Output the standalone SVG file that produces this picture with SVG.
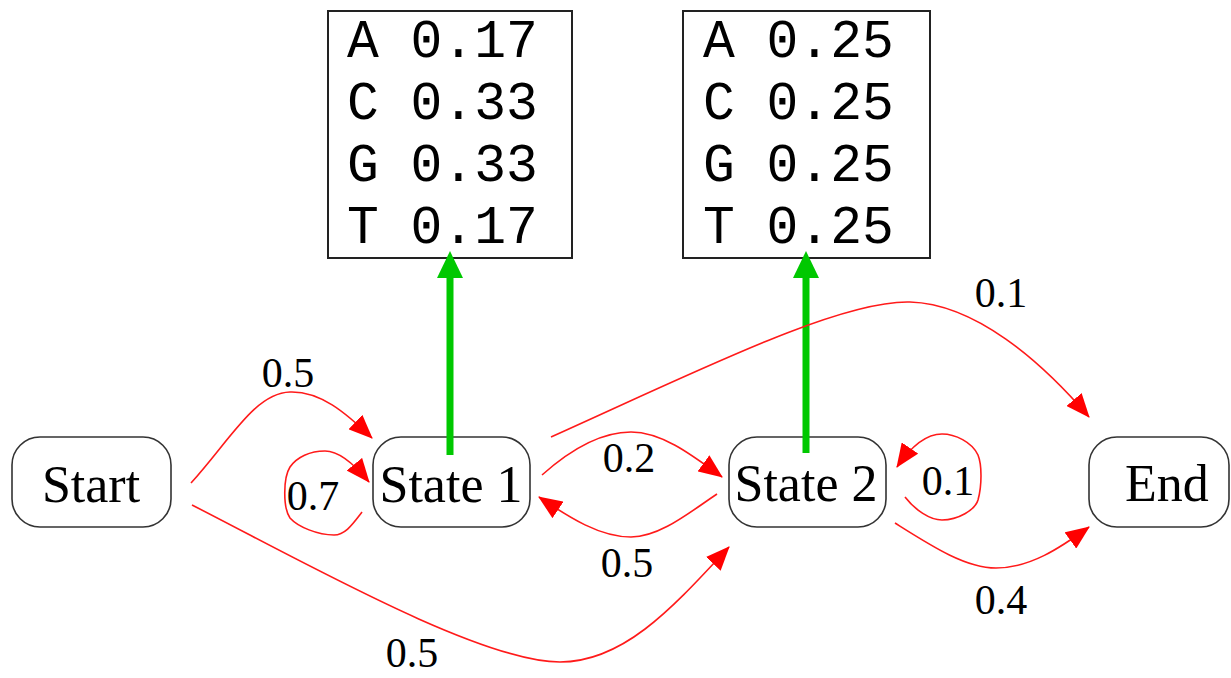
<svg xmlns="http://www.w3.org/2000/svg" width="1231" height="678" viewBox="0 0 1231 678">
<style>
.node{fill:#fff;stroke:#333;stroke-width:1.6}
.ntxt{font-family:"Liberation Serif","Times New Roman",serif;font-size:52px;text-anchor:middle;fill:#000}
.lbl{font-family:"Liberation Serif","Times New Roman",serif;font-size:42px;text-anchor:middle;fill:#000}
.emis{fill:#fff;stroke:#222;stroke-width:2}
.mono{font-family:"Liberation Mono","Courier New",monospace;font-size:53px;fill:#000}
.edge{fill:none;stroke:#ff1a1a;stroke-width:1.6;marker-end:url(#ah)}
.green{stroke:#00c800;stroke-width:7;fill:none}
</style>
<defs>
<marker id="ah" markerUnits="userSpaceOnUse" markerWidth="24" markerHeight="20" viewBox="0 0 24 20" refX="23" refY="10" orient="auto">
<path d="M0,0 L24,10 L0,20 z" fill="#ff0000"/>
</marker>
</defs>
<g id="emission1">
<rect class="emis" x="328" y="11" width="244" height="247"/>
<text class="mono" x="347" y="57">A 0.17</text>
<text class="mono" x="347" y="119">C 0.33</text>
<text class="mono" x="347" y="181">G 0.33</text>
<text class="mono" x="347" y="243">T 0.17</text>
</g>
<g id="emission2">
<rect class="emis" x="683" y="11" width="247" height="247"/>
<text class="mono" x="703" y="57">A 0.25</text>
<text class="mono" x="703" y="119">C 0.25</text>
<text class="mono" x="703" y="181">G 0.25</text>
<text class="mono" x="703" y="243">T 0.25</text>
</g>
<g id="start">
<rect class="node" x="12" y="437" width="159" height="90" rx="28"/>
<text class="ntxt" x="91" y="502">Start</text>
</g>
<g id="state1">
<rect class="node" x="373" y="437" width="157" height="90" rx="28"/>
<text class="ntxt" x="451" y="502">State 1</text>
</g>
<g id="state2">
<rect class="node" x="729" y="437" width="157" height="90" rx="28"/>
<text class="ntxt" x="806" y="501">State 2</text>
</g>
<g id="end">
<rect class="node" x="1089" y="437" width="140" height="90" rx="28"/>
<text class="ntxt" x="1167" y="501">End</text>
</g>
<g id="connectors">
<path class="green" d="M450,455 V274"/>
<polygon points="450,251 437,278 463,278" fill="#00c800"/>
<path class="green" d="M806,453 V274"/>
<polygon points="806,251 793,278 819,278" fill="#00c800"/>
<path class="edge" d="M191,483 C230,440 255,393 290,392 C320,391 345,412 372,438"/>
<path class="edge" d="M192,505 C300,560 480,662 560,662 C625,662 675,605 729,547"/>
<path class="edge" d="M362,512 C352,525 345,535 334,535 C318,535 298,527 290,518 C283,508 283,478 290,467 C297,457 310,451 325,451 C340,451 355,465 369,482"/>
<path class="edge" d="M542,475 C570,450 600,432 631,432 C662,432 692,455 722,477"/>
<path class="edge" d="M717,494 C690,512 660,537 631,537 C600,537 570,518 539,497"/>
<path class="edge" d="M551,437 C700,370 840,300 910,302 C975,304 1040,360 1089,417"/>
<path class="edge" d="M905,497 C915,510 930,520 942,520 C958,520 975,510 978,500 C982,485 982,465 978,455 C972,442 955,434 942,434 C925,434 910,448 897,467"/>
<path class="edge" d="M895,523 C930,545 965,568 996,568 C1030,568 1060,548 1089,527"/>
</g>
<g id="labels">
<text class="lbl" x="288" y="387">0.5</text>
<text class="lbl" x="313" y="510">0.7</text>
<text class="lbl" x="629" y="472">0.2</text>
<text class="lbl" x="627" y="577">0.5</text>
<text class="lbl" x="1001" y="307">0.1</text>
<text class="lbl" x="948" y="495">0.1</text>
<text class="lbl" x="1001" y="614">0.4</text>
<text class="lbl" x="412" y="667">0.5</text>
</g>
</svg>
